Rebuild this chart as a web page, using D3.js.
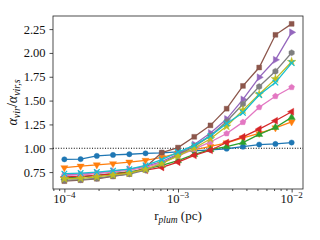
<!DOCTYPE html>
<html>
<head>
<meta charset="utf-8">
<script src="https://cdn.jsdelivr.net/npm/d3@7"></script>
<style>
  body { margin: 0; background: #fff; }
  svg { display: block; }
  text { font-family: "Liberation Serif", "DejaVu Serif", serif; fill: #111; }
</style>
</head>
<body>
<div id="chart"></div>
<script>
// radii (pc), 15 points from 1e-4 to 1e-2
var radii = [1.00e-4, 1.39e-4, 1.93e-4, 2.68e-4, 3.73e-4, 5.18e-4, 7.20e-4, 1.00e-3,
             1.39e-3, 1.93e-3, 2.68e-3, 3.73e-3, 5.18e-3, 7.20e-3, 1.00e-2];

var sBlue   = [0.884, 0.886, 0.920, 0.930, 0.937, 0.947, 0.952, 0.962, 0.972, 0.983, 0.995, 1.016, 1.039, 1.045, 1.060];
var sOrange = [0.796, 0.812, 0.826, 0.838, 0.855, 0.873, 0.905, 0.947, 0.983, 1.020, 1.056, 1.109, 1.155, 1.214, 1.277];
var sGreen  = [0.690, 0.700, 0.715, 0.735, 0.752, 0.780, 0.820, 0.870, 0.935, 0.986, 1.018, 1.060, 1.145, 1.218, 1.324];
var sRed    = [0.700, 0.705, 0.715, 0.730, 0.745, 0.770, 0.800, 0.855, 0.926, 0.979, 1.060, 1.119, 1.200, 1.288, 1.383];
var sPurple = [0.720, 0.728, 0.740, 0.760, 0.780, 0.810, 0.860, 0.940, 1.040, 1.160, 1.306, 1.512, 1.744, 1.928, 2.216];
var sBrown  = [0.655, 0.665, 0.680, 0.705, 0.730, 0.800, 0.955, 1.007, 1.120, 1.240, 1.415, 1.654, 1.847, 2.190, 2.305];
var sPink   = [0.715, 0.720, 0.735, 0.750, 0.770, 0.800, 0.850, 0.920, 0.990, 1.066, 1.155, 1.274, 1.430, 1.546, 1.640];
var sGray   = [0.665, 0.670, 0.685, 0.710, 0.730, 0.770, 0.840, 0.930, 1.020, 1.130, 1.280, 1.464, 1.647, 1.807, 2.002];
var sOlive  = [0.680, 0.685, 0.700, 0.720, 0.740, 0.780, 0.840, 0.920, 1.000, 1.100, 1.230, 1.400, 1.566, 1.728, 1.907];
var sCyan   = [0.733, 0.740, 0.750, 0.765, 0.780, 0.820, 0.880, 0.960, 1.030, 1.130, 1.260, 1.372, 1.559, 1.689, 1.893];

var series = [sBlue, sOrange, sGreen, sRed, sPurple, sBrown, sPink, sGray, sOlive, sCyan];
var colors = ["#1f77b4", "#ff7f0e", "#2ca02c", "#d62728", "#9467bd",
              "#8c564b", "#e377c2", "#7f7f7f", "#bcbd22", "#17becf"];
var markers = ["o", "v", "^", "<", ">", "s", "p", "h", "*", "x"];

var yTicks = [0.75, 1.00, 1.25, 1.50, 1.75, 2.00, 2.25];
var xTicks = [1e-4, 1e-3, 1e-2];
var xTickExp = ["\u22124", "\u22123", "\u22122"];

var w = 320, h = 240;
var pL = 53, pR = 303, pT = 16, pB = 189;

var svg = d3.select("#chart").append("svg")
  .attr("width", w).attr("height", h);

var x = d3.scaleLog().domain([Math.pow(10, -4.1), Math.pow(10, -1.9)]).range([pL, pR]);
var y = d3.scaleLinear().domain([0.5725, 2.3875]).range([pB, pT]);

// polygon path helper for pentagon / hexagon markers
function poly(n, r, rot) {
  var p = [];
  for (var k = 0; k < n; k++) {
    var a = rot + k * 2 * Math.PI / n;
    p.push([r * Math.sin(a), -r * Math.cos(a)]);
  }
  return "M" + p.map(function(q){ return q[0].toFixed(2) + "," + q[1].toFixed(2); }).join("L") + "Z";
}

function markerPath(m) {
  if (m == "o") return d3.symbol(d3.symbolCircle, 22)();
  if (m == "s") return d3.symbol(d3.symbolSquare, 24)();
  if (m == "p") return poly(5, 3.1, 0);
  if (m == "h") return poly(6, 3.1, 0);
  if (m == "*") return d3.symbol(d3.symbolStar, 24)();
  if (m == "x") return d3.symbol(d3.symbolTimes, 22)();
  return d3.symbol(d3.symbolTriangle, 22)();
}
function markerRot(m) {
  if (m == "v") return 180;
  if (m == "<") return -90;
  if (m == ">") return 90;
  return 0;
}

// dotted reference line at 1
svg.append("line")
  .attr("x1", pL).attr("x2", pR)
  .attr("y1", y(1)).attr("y2", y(1))
  .attr("stroke", "#000").attr("stroke-width", 1)
  .attr("stroke-dasharray", "1,1.6");

var line = d3.line()
  .x(function(d, i){ return x(radii[i]); })
  .y(function(d){ return y(d); });

series.forEach(function(s, k){
  var g = svg.append("g");
  g.append("path")
    .attr("d", line(s))
    .attr("fill", "none")
    .attr("stroke", colors[k])
    .attr("stroke-width", 1.3);
  g.selectAll("path.mk")
    .data(s)
    .enter()
    .append("path")
    .attr("class", "mk")
    .attr("d", markerPath(markers[k]))
    .attr("transform", function(d, i){
      return "translate(" + x(radii[i]) + "," + y(d) + ") rotate(" + markerRot(markers[k]) + ")";
    })
    .attr("fill", colors[k])
    .attr("stroke", colors[k])
    .attr("stroke-width", markers[k] == "x" ? 1.2 : 0.4);
});

// frame
svg.append("rect")
  .attr("x", pL).attr("y", pT)
  .attr("width", pR - pL).attr("height", pB - pT)
  .attr("fill", "none").attr("stroke", "#222").attr("stroke-width", 0.8);

// x axis, majors + minors
var minors = [];
[1e-5, 1e-4, 1e-3, 1e-2].forEach(function(b){
  for (var m = 2; m <= 9; m++) {
    var v = b * m;
    if (v > x.domain()[0] && v < x.domain()[1]) minors.push(v);
  }
});

svg.append("g")
  .attr("transform", "translate(0," + pB + ")")
  .call(d3.axisBottom(x).tickValues(xTicks).tickSize(3.5).tickFormat(""));
svg.append("g")
  .attr("transform", "translate(0," + pB + ")")
  .call(d3.axisBottom(x).tickValues(minors).tickSize(2).tickFormat(""));

svg.selectAll(".domain").remove();
svg.selectAll(".tick line").attr("stroke", "#222").attr("stroke-width", 0.8);

xTicks.forEach(function(t, i){
  var tx = svg.append("text")
    .attr("x", x(t)).attr("y", 203)
    .attr("text-anchor", "middle")
    .attr("font-size", 12.5);
  tx.append("tspan").text("10");
  tx.append("tspan").attr("dy", -5).attr("font-size", 9).text(xTickExp[i]);
});

// y axis
svg.append("g")
  .attr("transform", "translate(" + pL + ",0)")
  .call(d3.axisLeft(y).tickValues(yTicks).tickSize(3.5).tickFormat(d3.format(".2f")))
  .call(function(g){
    g.select(".domain").remove();
    g.selectAll(".tick line").attr("stroke", "#222").attr("stroke-width", 0.8);
    g.selectAll("text")
      .attr("font-family", "Liberation Serif, DejaVu Serif, serif")
      .attr("font-size", 12.5).attr("fill", "#111").attr("dx", -1);
  });

// x label
var xl = svg.append("text")
  .attr("x", (pL + pR) / 2).attr("y", 220)
  .attr("text-anchor", "middle").attr("font-size", 13);
xl.append("tspan").text("r");
xl.append("tspan").attr("dy", 3).attr("font-size", 9.5).attr("font-style", "italic").text("plum");
xl.append("tspan").attr("dy", -3).text(" (pc)");

// y label
var yl = svg.append("text")
  .attr("transform", "translate(17," + ((pT + pB) / 2) + ") rotate(-90)")
  .attr("text-anchor", "middle").attr("font-size", 14);
yl.append("tspan").attr("font-style", "italic").text("\u03b1");
yl.append("tspan").attr("dy", 3).attr("font-size", 10).attr("font-style", "italic").text("vir");
yl.append("tspan").attr("dy", -3).text("/");
yl.append("tspan").attr("font-style", "italic").text("\u03b1");
yl.append("tspan").attr("dy", 3).attr("font-size", 10).attr("font-style", "italic").text("vir,s");
</script>
</body>
</html>
